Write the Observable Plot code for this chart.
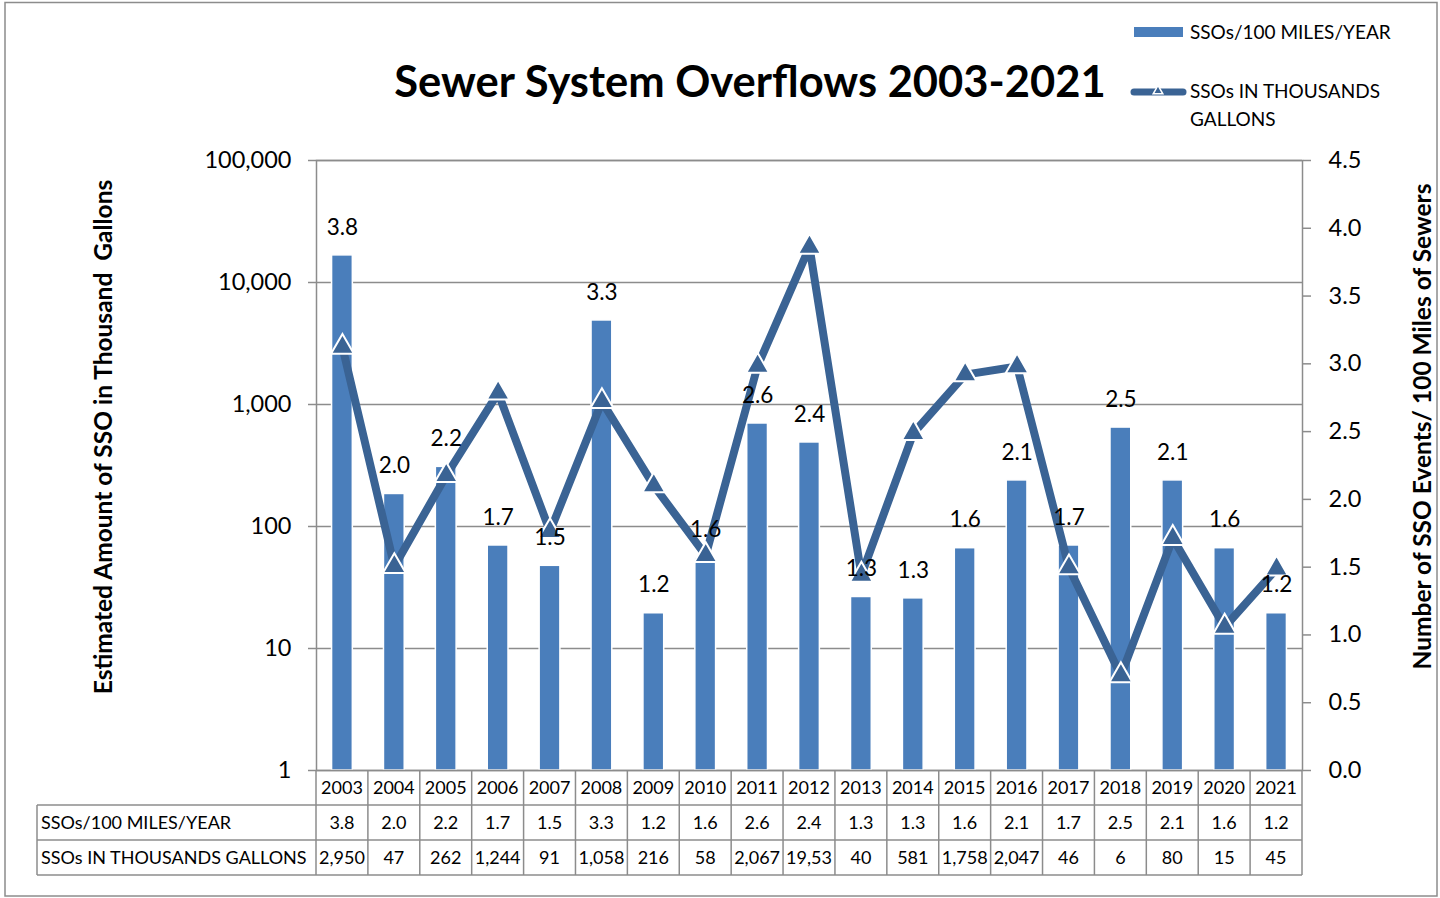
<!DOCTYPE html>
<html><head><meta charset="utf-8">
<script src="https://cdn.jsdelivr.net/npm/d3@7"></script>
<script src="https://cdn.jsdelivr.net/npm/@observablehq/plot@0.6"></script>
<style>
body{margin:0;background:#fff;}
#wrap{position:relative;width:1440px;height:898px;overflow:hidden;}
</style></head><body><div id="wrap"></div>
<script>
const years = ["2003","2004","2005","2006","2007","2008","2009","2010","2011","2012","2013","2014","2015","2016","2017","2018","2019","2020","2021"];
const ssosPer100Miles = [3.8,2.04,2.24,1.66,1.51,3.32,1.16,1.57,2.56,2.42,1.28,1.27,1.64,2.14,1.66,2.53,2.14,1.64,1.16];
const gallonsThousands = [2950,47,262,1244,91,1058,216,58,2067,19530,40,581,1758,2047,46,6,80,15,45];
const gallonsTableLabels = ["2,950","47","262","1,244","91","1,058","216","58","2,067","19,53","40","581","1,758","2,047","46","6","80","15","45"];
const leftDecades = [1,10,100,1000,10000,100000];
const rightTicks = [0,0.5,1,1.5,2,2.5,3,3.5,4,4.5];
const seriesNames = ["SSOs/100 MILES/YEAR","SSOs IN THOUSANDS GALLONS"];

const FONT = "Lato, 'Open Sans', sans-serif";
const BAR = "#4A7EBB", LINE = "#3A6394", GRID = "#8c8c8c";
const Y_MAX = 4.5, DECADES = 5;
const toY = g => Math.log10(g) / DECADES * Y_MAX;
const fromY = y => Math.round(10 ** (y / Y_MAX * DECADES));
const fmt1 = d3.format(".1f");
const data = years.map((year, i) => ({year, rate: ssosPer100Miles[i], gal: gallonsThousands[i], galLabel: gallonsTableLabels[i]}));

const chart = Plot.plot({
  width: 1440, height: 898,
  marginTop: 160, marginBottom: 128, marginLeft: 316, marginRight: 138,
  style: {fontFamily: FONT, fontSize: "22px", color: "#000", background: "#fff"},
  x: {type: "band", domain: years, paddingInner: 0.6, paddingOuter: 0.3, round: false, axis: null},
  y: {domain: [0, Y_MAX], axis: null},
  marks: [
    Plot.gridY(leftDecades.map(toY), {stroke: GRID, strokeOpacity: 1, strokeWidth: 1.5}),
    Plot.barY(data, {x: "year", y: "rate", fill: BAR, stroke: "#fff", strokeWidth: 1.5}),
    Plot.line(data, {x: "year", y: d => toY(d.gal), stroke: LINE, strokeWidth: 8, strokeLinejoin: "round"}),
    Plot.dot(data, {x: "year", y: d => toY(d.gal), symbol: "triangle", r: 8.5, fill: LINE, stroke: "#fff", strokeWidth: 2}),
    Plot.text(data, {x: "year", y: "rate", text: d => fmt1(d.rate), dy: -28, fontSize: 22.5, fill: "#000"}),
    Plot.frame({stroke: GRID, strokeWidth: 1.5}),
    Plot.axisY(leftDecades.map(toY), {anchor: "left", label: null, tickFormat: d => d3.format(",")(fromY(d)), tickSize: 8, tickPadding: 17, stroke: GRID, strokeWidth: 1.5, fill: "#000", fontSize: 23.5}),
    Plot.axisY(rightTicks, {anchor: "right", label: null, tickFormat: fmt1, tickSize: 8, tickPadding: 18, stroke: GRID, strokeWidth: 1.5, fill: "#000", fontSize: 23.5})
  ]
});
document.getElementById("wrap").appendChild(chart);

const svg = d3.select(chart);
const xs = chart.scale("x"), ys = chart.scale("y");
const step = xs.step, bw = xs.bandwidth;
const cx = yr => xs.apply(yr) + bw / 2;
const y0 = ys.apply(0);
const rowH = 35;
const tableLeft = 37;
const xRight = cx(years[years.length - 1]) + step / 2;

// outer border
svg.append("rect").attr("x", 5).attr("y", 2.5).attr("width", 1432).attr("height", 893.5)
  .attr("fill", "none").attr("stroke", GRID).attr("stroke-width", 1.5);

// table grid
const tg = svg.append("g").attr("stroke", GRID).attr("stroke-width", 1.5).attr("fill", "none");
[1, 2, 3].forEach(r => tg.append("line").attr("x1", tableLeft).attr("x2", xRight)
  .attr("y1", y0 + r * rowH).attr("y2", y0 + r * rowH));
years.forEach(yr => {
  const b = cx(yr) - step / 2;
  tg.append("line").attr("x1", b).attr("x2", b).attr("y1", y0).attr("y2", y0 + 3 * rowH);
});
tg.append("line").attr("x1", xRight).attr("x2", xRight).attr("y1", y0).attr("y2", y0 + 3 * rowH);
tg.append("line").attr("x1", tableLeft).attr("x2", tableLeft).attr("y1", y0 + rowH).attr("y2", y0 + 3 * rowH);

const tt = svg.append("g").attr("font-family", FONT).attr("font-size", 18).attr("fill", "#000").attr("text-anchor", "middle");
data.forEach(d => {
  tt.append("text").attr("x", cx(d.year)).attr("y", y0 + rowH * 0.5).attr("dy", "0.35em").text(d.year);
  tt.append("text").attr("x", cx(d.year)).attr("y", y0 + rowH * 1.5).attr("dy", "0.35em").text(fmt1(d.rate));
  tt.append("text").attr("x", cx(d.year)).attr("y", y0 + rowH * 2.5).attr("dy", "0.35em").text(d.galLabel);
});
seriesNames.forEach((n, r) => {
  tt.append("text").attr("x", tableLeft + 4).attr("y", y0 + rowH * (1.5 + r)).attr("dy", "0.35em").attr("text-anchor", "start").text(n);
});

// title
svg.append("text").attr("x", 750).attr("y", 82).attr("dy", "0.35em").attr("text-anchor", "middle")
  .attr("font-family", FONT).attr("font-weight", "bold").attr("font-size", 43.5).text("Sewer System Overflows 2003-2021");

// axis titles
svg.append("text").attr("transform", "translate(103,437) rotate(-90)").attr("dy", "0.35em").attr("text-anchor", "middle")
  .attr("font-family", FONT).attr("font-weight", "bold").attr("font-size", 24.5).style("white-space", "pre")
  .text("Estimated Amount of SSO in Thousand  Gallons");
svg.append("text").attr("transform", "translate(1422,426.5) rotate(-90)").attr("dy", "0.35em").attr("text-anchor", "middle")
  .attr("font-family", FONT).attr("font-weight", "bold").attr("font-size", 24.5).text("Number of SSO Events/ 100 Miles of Sewers");

// legend
const lg = svg.append("g").attr("font-family", FONT).attr("font-size", 19).attr("fill", "#000").attr("text-anchor", "start");
lg.append("rect").attr("x", 1134).attr("y", 27).attr("width", 49).attr("height", 10).attr("fill", BAR);
lg.append("text").attr("x", 1190).attr("y", 32).attr("dy", "0.35em").text(seriesNames[0]);
lg.append("line").attr("x1", 1134).attr("x2", 1183).attr("y1", 92).attr("y2", 92).attr("stroke", LINE).attr("stroke-width", 7).attr("stroke-linecap", "round");
lg.append("path").attr("d", d3.symbol(d3.symbolTriangle, 40)()).attr("transform", "translate(1158,91)").attr("fill", LINE).attr("stroke", "#fff").attr("stroke-width", 1.5);
lg.append("text").attr("x", 1190).attr("y", 91).attr("dy", "0.35em").text("SSOs IN THOUSANDS");
lg.append("text").attr("x", 1190).attr("y", 119).attr("dy", "0.35em").text("GALLONS");
</script></body></html>
